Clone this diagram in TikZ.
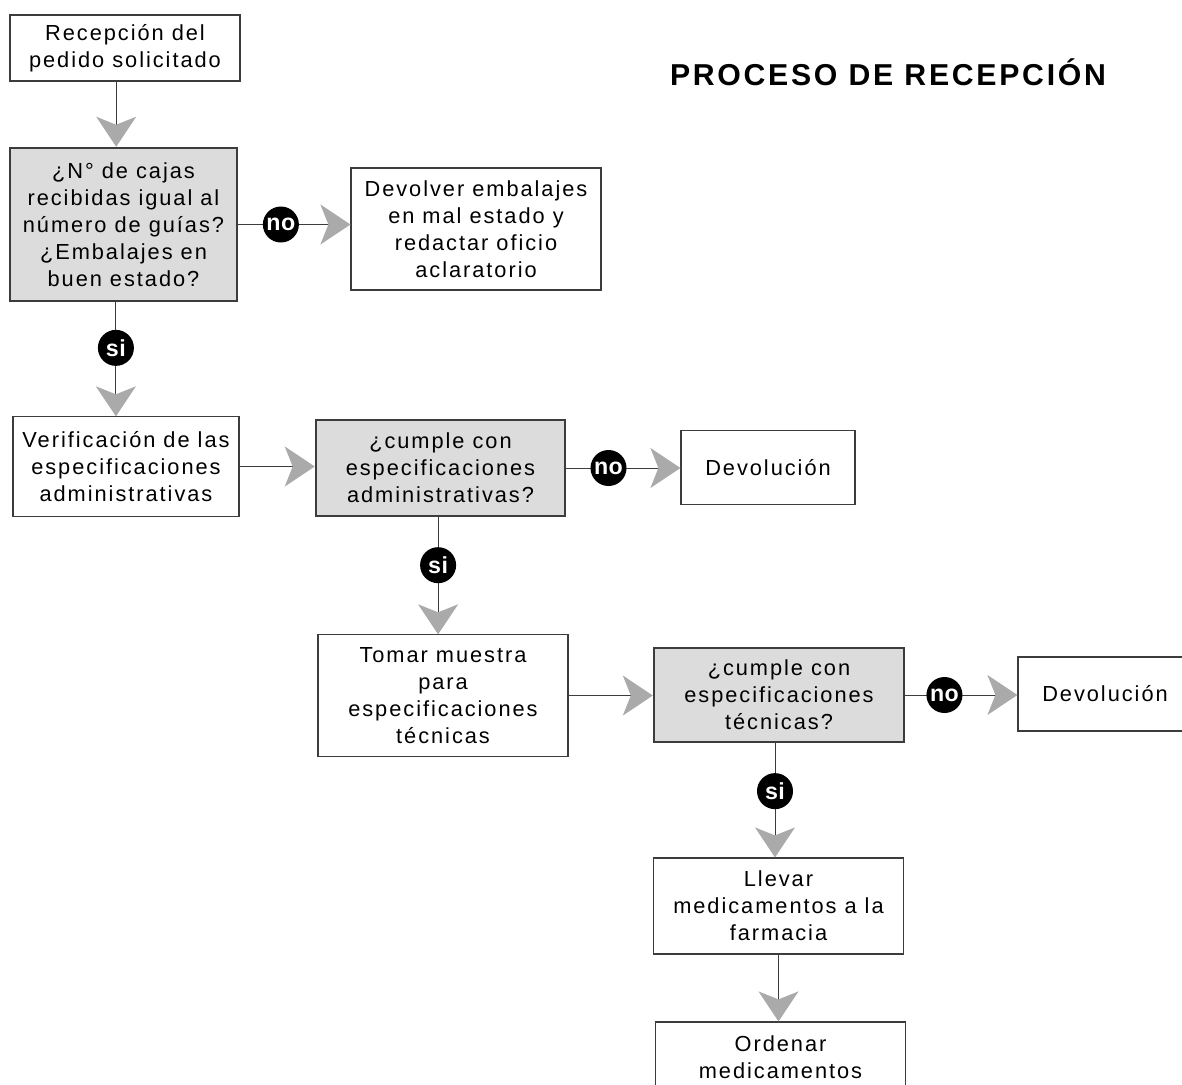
\documentclass[tikz,border=0pt]{standalone}
\usepackage{fontspec}
\setmainfont{Liberation Sans}[LetterSpace=9]
\usetikzlibrary{arrows.meta, positioning}
\definecolor{tipgray}{HTML}{AAAAAA}
\definecolor{boxgray}{HTML}{DCDCDC}
\definecolor{linegray}{HTML}{3C3C3C}

\begin{document}
\begin{tikzpicture}[x=0.025cm, y=-0.025cm,
  box/.style={rectangle, draw=linegray, line width=0.8pt, fill=white, align=center,
              font=\fontsize{15.5}{19.2}\selectfont, inner sep=2pt},
  ask/.style={box, fill=boxgray, line width=1.6pt},
  arr/.style={draw=linegray, line width=0.7pt,
              -{Stealth[length=0.75cm, width=1cm, inset=0.2cm, color=tipgray]}},
  tag/.style={circle, fill=black, text=white,
              font=\bfseries\fontsize{16.5}{16.5}\selectfont\addfontfeature{LetterSpace=2},
              inner sep=0pt, minimum size=0.9cm}]
  \useasboundingbox (0,0) rectangle (1182,1084);
  \clip (0,0) rectangle (1182,1084);
  \node[font=\bfseries\fontsize{21.5}{26}\selectfont] (titulo) at (888,72) {PROCESO DE RECEPCIÓN};
  % column of boxes
  \node[box, minimum width=5.75cm, minimum height=1.65cm] (recep) at (125,48) {Recepción del\\pedido solicitado};
  \node[ask, minimum width=5.68cm, minimum height=3.83cm] (cajas) at (123.5,224.5)
      {¿N° de cajas\\recibidas igual al\\número de guías?\\¿Embalajes en\\buen estado?};
  \node[box, minimum width=6.25cm, minimum height=3.05cm] (devemb) at (476,229)
      {Devolver embalajes\\en mal estado y\\redactar oficio\\aclaratorio};
  \node[box, minimum width=5.65cm, minimum height=2.48cm] (verif) at (126,466.5)
      {Verificación de las\\especificaciones\\administrativas};
  \node[ask, minimum width=6.23cm, minimum height=2.4cm] (admin) at (440.5,468)
      {¿cumple con\\especificaciones\\administrativas?};
  \node[box, minimum width=4.35cm, minimum height=1.83cm] (dev1) at (768,467.5) {Devolución};
  \node[box, minimum width=6.25cm, minimum height=3.03cm] (muestra) at (443,695.5)
      {Tomar muestra\\para\\especificaciones\\técnicas};
  \node[ask, minimum width=6.25cm, minimum height=2.35cm] (tecn) at (779,695)
      {¿cumple con\\especificaciones\\técnicas?};
  \node[box, minimum width=4.35cm, minimum height=1.85cm] (dev2) at (1105,694) {Devolución};
  \node[box, minimum width=6.23cm, minimum height=2.4cm] (llevar) at (778.5,906)
      {Llevar\\medicamentos a la\\farmacia};
  \node[box, minimum width=6.23cm, minimum height=1.75cm] (ordenar) at (780.5,1057)
      {Ordenar\\medicamentos};
  % connectors
  \draw[arr] ([xshift=-0.22cm]recep.south) -- ([xshift=-0.22cm]recep.south |- cajas.north);
  \draw[arr] (cajas.east) -- node[tag, pos=0.38]{no} (cajas.east -| devemb.west);
  \draw[arr] ([xshift=-0.19cm]cajas.south) -- node[tag, pos=0.4]{si} ([xshift=-0.19cm]cajas.south |- verif.north);
  \draw[arr] (verif.east) -- (verif.east -| admin.west);
  \draw[arr] (admin.east) -- node[tag, pos=0.37]{no} (admin.east -| dev1.west);
  \draw[arr] ([xshift=-0.06cm]admin.south) -- node[tag, pos=0.41]{si} ([xshift=-0.06cm]admin.south |- muestra.north);
  \draw[arr] (muestra.east) -- (muestra.east -| tecn.west);
  \draw[arr] (tecn.east) -- node[tag, pos=0.35]{no} (tecn.east -| dev2.west);
  \draw[arr] ([xshift=-0.1cm]tecn.south) -- node[tag, pos=0.42]{si} ([xshift=-0.1cm]tecn.south |- llevar.north);
  \draw[arr] (llevar.south) -- (llevar.south |- ordenar.north);
\end{tikzpicture}
\end{document}
